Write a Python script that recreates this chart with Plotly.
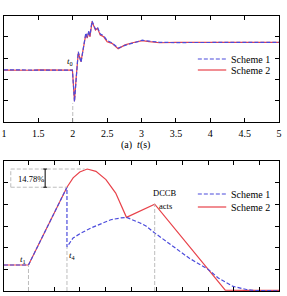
import plotly.graph_objects as go

W, H = 287, 296
FONT = "Liberation Serif, Times New Roman, serif"
BLUE = "#4b4bdc"
RED = "#e8424a"
GREY = "#bdbdbd"

# ---------------- Panel (a) data ----------------
t_a = [1.0, 1.1, 1.2, 1.3, 1.4, 1.5, 1.6, 1.7, 1.8, 1.9, 1.995, 2.025, 2.05, 2.08, 2.12,
       2.19, 2.21, 2.235, 2.25, 2.28, 2.33, 2.36, 2.40, 2.45, 2.50, 2.57, 2.66, 2.76,
       2.87, 3.01, 3.11, 3.26, 3.49, 4.0, 4.5, 5.0]
s2_a = [2.44, 2.43, 2.45, 2.44, 2.43, 2.45, 2.44, 2.44, 2.43, 2.44, 2.44, 0.98, 2.1, 3.25, 2.83,
        4.13, 3.94, 4.24, 4.00, 4.71, 4.32, 4.40, 4.08, 4.00, 3.77, 3.69, 3.44, 3.62,
        3.72, 3.82, 3.77, 3.72, 3.74, 3.74, 3.74, 3.74]
s1_a = [2.45, 2.44, 2.44, 2.45, 2.44, 2.44, 2.45, 2.43, 2.44, 2.44, 2.44, 0.95, 2.15, 3.30, 2.80,
        4.18, 3.98, 4.28, 4.05, 4.74, 4.36, 4.45, 4.13, 4.05, 3.82, 3.72, 3.47, 3.60,
        3.70, 3.84, 3.80, 3.74, 3.73, 3.74, 3.73, 3.74]
t0_a = 2.0
xticks_a = [1, 1.5, 2, 2.5, 3, 3.5, 4, 4.5, 5]
xlabels_a = ["1", "1.5", "2", "2.5", "3", "3.5", "4", "4.5", "5"]

# ---------------- Panel (b) data ----------------
u_b2 = [-0.955, 0.0, 1.5, 1.74, 2.0, 2.29, 2.63, 3.02, 3.40, 3.65, 3.82, 4.92,
        5.95, 6.98, 7.67, 8.5, 9.77]
i_b2 = [1.2, 1.2, 4.79, 5.22, 5.49, 5.63, 5.52, 5.14, 4.52, 3.83, 3.40, 4.01,
        2.54, 1.04, 0.04, 0.03, 0.03]
u_b1 = [-0.955, 0.0, 1.5, 1.5, 1.74, 2.06, 2.44, 2.82, 3.21, 3.59, 3.82, 4.35, 4.58,
        4.92, 5.61, 6.26, 6.98, 7.4, 7.98, 8.5, 8.85, 9.2, 9.77]
i_b1 = [1.2, 1.2, 4.79, 2.03, 2.45, 2.68, 2.91, 3.09, 3.29, 3.37, 3.40, 3.14, 3.0,
        2.68, 2.08, 1.52, 1.02, 0.6, 0.21, 0.07, 0.02, 0.01, 0.01]
t1_b = 0.0
t4_b = 1.5
dccb_b = 4.92
pct_label = "14.78%"

fig = go.Figure()
# panel (a)
fig.add_trace(go.Scatter(x=t_a, y=s2_a, mode="lines", line=dict(color=RED, width=1.2),
                         xaxis="x", yaxis="y", showlegend=False))
fig.add_trace(go.Scatter(x=t_a, y=s1_a, mode="lines", line=dict(color=BLUE, width=1.2, dash="4px,2px"),
                         xaxis="x", yaxis="y", showlegend=False))
# panel (b)
fig.add_trace(go.Scatter(x=u_b2, y=i_b2, mode="lines", line=dict(color=RED, width=1.2),
                         xaxis="x2", yaxis="y2", showlegend=False))
fig.add_trace(go.Scatter(x=u_b1, y=i_b1, mode="lines", line=dict(color=BLUE, width=1.2, dash="4px,2px"),
                         xaxis="x2", yaxis="y2", showlegend=False))


def px(x):
    return x / W


def py(y):
    return 1 - y / H


axis_common = dict(showline=True, linecolor="black", linewidth=1, mirror="ticks",
                   ticks="inside", ticklen=4, tickcolor="black", tickwidth=1,
                   showgrid=False, zeroline=False,
                   tickfont=dict(family=FONT, size=10, color="black"))

xdom = [px(1), px(282)]
fig.update_layout(
    width=W, height=H, margin=dict(l=0, r=0, t=0, b=0),
    paper_bgcolor="white", plot_bgcolor="white",
    xaxis=dict(domain=xdom, range=[1, 5], tickvals=xticks_a, ticktext=xlabels_a,
               anchor="y", ticklabelstandoff=2, ticklabeloverflow="allow", **axis_common),
    yaxis=dict(domain=[py(122), py(15.5)], range=[0, 5], dtick=1, showticklabels=False,
               anchor="x", **axis_common),
    xaxis2=dict(domain=xdom, range=[-0.955, 9.77], dtick=1, tick0=0, showticklabels=False,
                anchor="y2", **axis_common),
    yaxis2=dict(domain=[py(291), py(161)], range=[0, 6], dtick=1, showticklabels=False,
                anchor="x2", **axis_common),
)

shapes = []
dash_grey = dict(color=GREY, width=1, dash="4px,2px")
# panel (a) event line
dip_a = min(s2_a)
shapes.append(dict(type="line", xref="x", yref="y", x0=t0_a, x1=t0_a, y0=0, y1=dip_a - 0.1,
                   line=dash_grey))
# panel (b) event lines
shapes.append(dict(type="line", xref="x2", yref="y2", x0=t1_b, x1=t1_b, y0=0, y1=i_b2[1],
                   line=dash_grey))
shapes.append(dict(type="line", xref="x2", yref="y2", x0=t4_b, x1=t4_b, y0=0, y1=i_b1[3],
                   line=dash_grey))
i_dccb = i_b2[u_b2.index(dccb_b)]
shapes.append(dict(type="line", xref="x2", yref="y2", x0=dccb_b, x1=dccb_b, y0=0, y1=i_dccb,
                   line=dash_grey))
# 14.78% bracket
peak_v = max(i_b2)
peak_u = u_b2[i_b2.index(peak_v)]
kink_v = i_b2[2]
xl = -0.69
shapes.append(dict(type="line", xref="x2", yref="y2", x0=xl, x1=peak_u - 0.1, y0=peak_v, y1=peak_v,
                   line=dash_grey))
shapes.append(dict(type="line", xref="x2", yref="y2", x0=xl, x1=t4_b, y0=kink_v, y1=kink_v,
                   line=dash_grey))
shapes.append(dict(type="line", xref="x2", yref="y2", x0=xl, x1=xl, y0=kink_v, y1=peak_v,
                   line=dash_grey))
shapes.append(dict(type="line", xref="x2", yref="y2", x0=0.65, x1=0.65, y0=kink_v, y1=peak_v,
                   line=dict(color="black", width=1)))
for yv in (kink_v, peak_v):
    shapes.append(dict(type="line", xref="x2", yref="y2", x0=0.58, x1=0.72, y0=yv, y1=yv,
                       line=dict(color="black", width=1)))

# manual legends
for (yl, col, dash) in [(59, BLUE, "4px,2px"), (70, RED, "solid"),
                        (194, BLUE, "4px,2px"), (207, RED, "solid")]:
    shapes.append(dict(type="line", xref="paper", yref="paper", x0=px(199), x1=px(228),
                       y0=py(yl), y1=py(yl), line=dict(color=col, width=1.2, dash=dash)))
fig.update_layout(shapes=shapes)

ann = []


def text(x, y, s, size=10, anchor="center"):
    ann.append(dict(xref="paper", yref="paper", x=px(x), y=py(y), text=s, showarrow=False,
                    xanchor=anchor, yanchor="middle",
                    font=dict(family=FONT, size=size, color="black")))


for yl, lab in [(59, "Scheme 1"), (70, "Scheme 2"), (194, "Scheme 1"), (207, "Scheme 2")]:
    text(231, yl, lab, 10, "left")
text(68, 62, "<i>t</i><sub>0</sub>", 9)
text(135.5, 145, "(a)  <i>t</i>(s)", 10)
text(20, 259, "<i>t</i><sub>1</sub>", 9)
text(71, 255, "<i>t</i><sub>4</sub>", 9)
text(165, 193, "DCCB", 8.5)
text(166, 206, "acts", 8.5)
text(28.5, 179, pct_label, 8.5)
fig.update_layout(annotations=ann)

fig.write_html("out.html")
